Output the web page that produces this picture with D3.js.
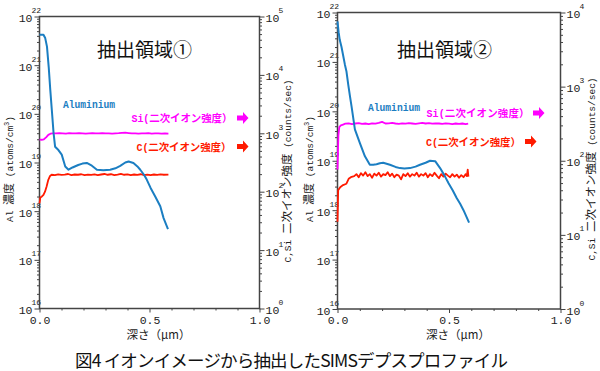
<!DOCTYPE html>
<html>
<head>
<meta charset="utf-8">
<script src="https://cdn.jsdelivr.net/npm/d3@7"></script>
<style>
  body { margin: 0; background: #fff; }
</style>
</head>
<body>
<div id="chart"></div>
<script>

// depth axis (um)
var depthMajor = [0, 0.5, 1.0];
var depthLabels = ["0.0", "0.5", "1.0"];
var depthMinor = [0.1, 0.2, 0.3, 0.4, 0.6, 0.7, 0.8, 0.9];

// Al concentration axis (atoms/cm3) and counts axis max per region
var alDomain = [1e16, 1e22];
var countsMax = [1e5, 1e4];
var panelTitles = ["抽出領域①", "抽出領域②"];

// region 1 : [depth um, value]
var al1 = [[0,4.2e21],[0.018,4.2e21],[0.026,3.6e21],[0.034,2.4e21],[0.042,9.0e20],[0.049,3.1e20],
  [0.056,1.2e20],[0.064,4.0e19],[0.071,2.1e19],[0.086,1.8e19],[0.101,1.45e19],[0.117,8.3e18],
  [0.132,7.1e18],[0.15,7.9e18],[0.176,8.9e18],[0.195,9.5e18],[0.215,9.8e18],[0.238,8.6e18],
  [0.261,7.1e18],[0.29,6.9e18],[0.321,7.1e18],[0.345,7.6e18],[0.367,8.5e18],[0.39,1.0e19],
  [0.405,1.05e19],[0.427,9.8e18],[0.445,8.3e18],[0.458,7.1e18],[0.475,5.6e18],[0.488,4.4e18],
  [0.505,3.0e18],[0.526,2.0e18],[0.549,1.26e18],[0.564,7.2e17],[0.584,4.3e17]];

var si1 = [[0,780],[0.01,775],[0.02,790],[0.03,850],[0.04,940],[0.05,985],[0.06,1000],[0.075,995],
  [0.09,1010],[0.105,1000],[0.12,990],[0.135,1005],[0.15,1000],[0.165,995],[0.18,1010],[0.195,1000],
  [0.21,990],[0.225,1000],[0.24,1005],[0.255,995],[0.27,1000],[0.285,1010],[0.3,995],[0.315,1000],
  [0.33,990],[0.345,1000],[0.36,1005],[0.375,1015],[0.39,1025],[0.405,1010],[0.42,995],[0.435,1000],
  [0.45,990],[0.465,1000],[0.48,995],[0.495,1005],[0.51,990],[0.525,995],[0.54,1000],[0.555,990],
  [0.57,995],[0.586,990]];

var c1 = [[0,63],[0.004,80],[0.01,82],[0.018,88],[0.025,100],[0.032,122],[0.04,160],[0.048,186],
  [0.055,195],[0.07,192],[0.085,198],[0.1,194],[0.115,196],[0.13,201],[0.145,193],[0.16,197],
  [0.175,195],[0.19,199],[0.205,192],[0.22,196],[0.235,194],[0.25,198],[0.265,193],[0.28,197],
  [0.295,201],[0.31,195],[0.325,199],[0.34,193],[0.355,196],[0.37,202],[0.385,195],[0.4,198],
  [0.415,192],[0.43,197],[0.445,194],[0.46,199],[0.475,193],[0.49,196],[0.505,192],[0.52,197],
  [0.535,194],[0.55,198],[0.565,195],[0.586,196]];

// region 2
var al2 = [[0,6.6e21],[0.005,4.0e21],[0.01,2.8e21],[0.018,2.0e21],[0.026,1.3e21],[0.033,8.9e20],
  [0.04,6.5e20],[0.048,3.5e20],[0.056,2.0e20],[0.063,1.26e20],[0.078,4.3e19],[0.1,2.3e19],
  [0.123,1.23e19],[0.145,8.3e18],[0.16,8.3e18],[0.175,8.5e18],[0.19,8.9e18],[0.205,9.1e18],
  [0.22,8.7e18],[0.235,8.3e18],[0.26,7.5e18],[0.28,7.1e18],[0.3,7.0e18],[0.325,7.1e18],
  [0.35,7.6e18],[0.37,8.3e18],[0.395,9.1e18],[0.415,1.0e19],[0.438,9.8e18],[0.46,7.1e18],
  [0.48,5.0e18],[0.498,3.5e18],[0.517,2.5e18],[0.535,1.74e18],[0.55,1.35e18],[0.565,1.0e18],
  [0.59,5.6e17]];

var si2 = [[0,76],[0.002,130],[0.004,220],[0.008,285],[0.015,300],[0.025,308],[0.035,316],[0.05,320],
  [0.065,312],[0.08,318],[0.095,322],[0.11,314],[0.125,318],[0.14,312],[0.155,320],[0.17,316],
  [0.185,324],[0.2,335],[0.215,318],[0.23,320],[0.245,324],[0.26,318],[0.275,314],[0.29,320],
  [0.305,316],[0.32,322],[0.335,318],[0.35,314],[0.365,320],[0.38,324],[0.395,318],[0.41,322],
  [0.425,316],[0.44,320],[0.455,318],[0.47,314],[0.485,320],[0.5,316],[0.515,312],[0.53,318],
  [0.545,314],[0.56,318],[0.575,312],[0.586,316]];

var c2 = [[0,15],[0.003,40],[0.012,44],[0.025,47],[0.04,49],[0.05,57],[0.06,60],[0.075,62],
  [0.085,66],[0.095,60],[0.105,68],[0.115,63],[0.125,70],[0.135,62],[0.145,66],[0.155,59],
  [0.165,67],[0.175,63],[0.185,69],[0.195,61],[0.205,66],[0.215,64],[0.225,70],[0.235,62],
  [0.245,67],[0.255,60],[0.265,65],[0.275,63],[0.285,56],[0.295,66],[0.305,62],[0.315,68],
  [0.325,61],[0.335,66],[0.345,63],[0.355,69],[0.365,61],[0.375,66],[0.385,63],[0.395,68],
  [0.405,60],[0.415,66],[0.425,62],[0.435,69],[0.445,63],[0.455,58],[0.465,66],[0.475,61],
  [0.485,67],[0.495,63],[0.505,60],[0.515,66],[0.525,61],[0.535,65],[0.545,59],[0.555,64],
  [0.565,60],[0.575,66],[0.58,62],[0.584,76],[0.587,61]];

var series = [[al1, si1, c1], [al2, si2, c2]];

// layout of the two panels
var panels = [
  {x0: 39.5, x1: 259.5, y0: 16.5, y1: 308.5, title: [97, 57],
   alText: [63, 108], siText: [131.5, 122, 101], cText: [136.5, 150.5, 95],
   siArrow: [237, 118], cArrow: [237, 146.5], leftTitle: [13, 169], rightTitle: [291, 171]},
  {x0: 337.5, x1: 560.5, y0: 12.5, y1: 309, title: [397, 57],
   alText: [368, 111], siText: [426.5, 117, 103], cText: [426, 145.5, 95],
   siArrow: [533, 113], cArrow: [525, 141.5], leftTitle: [313, 169], rightTitle: [595, 169]}
];

var blue = "#1b7ec2", magenta = "#ff00ff", red = "#ff1a00", frame = "#444";
var mono = "'Liberation Mono', 'DejaVu Sans Mono', monospace";
var cjk = "'Noto Sans CJK JP', 'Noto Sans', sans-serif";

var svg = d3.select("#chart")
  .append("svg")
    .attr("width", 600)
    .attr("height", 371);

panels.forEach(function(p, i) {
  var g = svg.append("g");

  var x = d3.scaleLinear().domain([0, 1]).range([p.x0, p.x1]);
  var yAl = d3.scaleLog().domain(alDomain).range([p.y1, p.y0]);
  var yC = d3.scaleLog().domain([1, countsMax[i]]).range([p.y1, p.y0]);

  var isDecade = function(d) { return Math.abs(Math.log10(d) - Math.round(Math.log10(d))) < 1e-9; };
  var alMajor = yAl.ticks().filter(isDecade), alMinor = yAl.ticks().filter(function(d) { return !isDecade(d); });
  var cMajor = yC.ticks().filter(isDecade), cMinor = yC.ticks().filter(function(d) { return !isDecade(d); });

  // x axis
  var xa = g.append("g").attr("transform", "translate(0," + p.y1 + ")")
    .call(d3.axisBottom(x).tickValues(depthMajor).tickSize(4).tickPadding(3)
      .tickFormat(function(d, k) { return depthLabels[k]; }));
  g.append("g").attr("transform", "translate(0," + p.y1 + ")")
    .call(d3.axisBottom(x).tickValues(depthMinor).tickSize(2).tickFormat(""));

  // left axis (Al)
  g.append("g").attr("transform", "translate(" + p.x0 + ",0)")
    .call(d3.axisLeft(yAl).tickValues(alMajor).tickSize(5).tickFormat(""));
  g.append("g").attr("transform", "translate(" + p.x0 + ",0)")
    .call(d3.axisLeft(yAl).tickValues(alMinor).tickSize(2.5).tickFormat(""));

  // right axis (counts)
  g.append("g").attr("transform", "translate(" + p.x1 + ",0)")
    .call(d3.axisRight(yC).tickValues(cMajor).tickSize(5).tickFormat(""));
  g.append("g").attr("transform", "translate(" + p.x1 + ",0)")
    .call(d3.axisRight(yC).tickValues(cMinor).tickSize(2.5).tickFormat(""));

  g.selectAll(".domain").remove();
  g.selectAll(".tick line").attr("stroke", frame);
  xa.selectAll("text").attr("font-family", mono).attr("font-size", 11.5).attr("fill", "#222");

  // power-of-ten labels
  alMajor.forEach(function(d) {
    g.append("text").attr("font-family", mono).attr("fill", "#222")
      .attr("x", p.x0 - 7).attr("y", yAl(d) + 5.5)
      .attr("text-anchor", "end").attr("font-size", 11.5).text("10");
    g.append("text").attr("font-family", mono).attr("fill", "#222")
      .attr("x", p.x0 - 8).attr("y", yAl(d) - 3.5).attr("font-size", 8)
      .text(Math.round(Math.log10(d)));
  });
  cMajor.forEach(function(d) {
    g.append("text").attr("font-family", mono).attr("fill", "#222")
      .attr("x", p.x1 + 6).attr("y", yC(d) + 5.5).attr("font-size", 11.5).text("10");
    g.append("text").attr("font-family", mono).attr("fill", "#222")
      .attr("x", p.x1 + 19).attr("y", yC(d) - 3.5).attr("font-size", 8)
      .text(Math.round(Math.log10(d)));
  });

  // frame
  g.append("rect")
    .attr("x", p.x0).attr("y", p.y0)
    .attr("width", p.x1 - p.x0).attr("height", p.y1 - p.y0)
    .attr("fill", "none").attr("stroke", frame).attr("stroke-width", 1.5);

  // profiles
  var alLine = d3.line().x(function(d) { return x(d[0]); }).y(function(d) { return yAl(d[1]); });
  var cLine = d3.line().x(function(d) { return x(d[0]); }).y(function(d) { return yC(d[1]); });

  g.append("path").datum(series[i][1])
    .attr("fill", "none").attr("stroke", magenta).attr("stroke-width", 1.8)
    .attr("stroke-linejoin", "round").attr("d", cLine);
  g.append("path").datum(series[i][2])
    .attr("fill", "none").attr("stroke", red).attr("stroke-width", 1.8)
    .attr("stroke-linejoin", "round").attr("d", cLine);
  g.append("path").datum(series[i][0])
    .attr("fill", "none").attr("stroke", blue).attr("stroke-width", 2)
    .attr("stroke-linejoin", "round").attr("d", alLine);

  // titles and labels
  g.append("text").attr("x", p.title[0]).attr("y", p.title[1])
    .attr("font-family", cjk).attr("font-size", 19).attr("fill", "#111")
    .text(panelTitles[i]);

  g.append("text").attr("x", p.alText[0]).attr("y", p.alText[1])
    .attr("font-family", mono).attr("font-size", 11).attr("font-weight", "bold")
    .attr("fill", blue).attr("textLength", 52).attr("lengthAdjust", "spacingAndGlyphs")
    .text("Aluminium");

  [[p.siText, p.siArrow, "Si", magenta], [p.cText, p.cArrow, "C", red]].forEach(function(l) {
    var t = g.append("text").attr("x", l[0][0]).attr("y", l[0][1])
      .attr("font-family", cjk).attr("font-size", 10.5).attr("font-weight", "bold")
      .attr("fill", l[3]).attr("textLength", l[0][2]).attr("lengthAdjust", "spacing");
    t.append("tspan").attr("font-family", mono).attr("font-size", 10).text(l[2] + "(");
    t.append("tspan").text("二次イオン強度）");
    var ax = l[1][0], ay = l[1][1];
    g.append("path")
      .attr("d", "M" + ax + "," + (ay - 2.5) + "h6v-3.5l5.5,6l-5.5,6v-3.5h-6z")
      .attr("fill", l[3]);
  });

  // axis titles
  var lt = g.append("text")
    .attr("transform", "translate(" + p.leftTitle[0] + "," + p.leftTitle[1] + ") rotate(-90)")
    .attr("text-anchor", "middle").attr("font-family", mono).attr("font-size", 9.5).attr("fill", "#222");
  lt.append("tspan").text("Al ");
  lt.append("tspan").attr("font-family", cjk).attr("font-size", 11).text("濃度");
  lt.append("tspan").text(" (atoms/cm");
  lt.append("tspan").attr("font-size", 7).attr("dy", -4).text("3");
  lt.append("tspan").attr("dy", 4).text(")");

  var rt = g.append("text")
    .attr("transform", "translate(" + p.rightTitle[0] + "," + p.rightTitle[1] + ") rotate(-90)")
    .attr("text-anchor", "middle").attr("font-family", mono).attr("font-size", 9.5).attr("fill", "#222");
  rt.append("tspan").text("C,Si ");
  rt.append("tspan").attr("font-family", cjk).attr("font-size", 11.5).text("二次イオン強度");
  rt.append("tspan").text(" (counts/sec)");

  g.append("text").attr("x", (p.x0 + p.x1) / 2 + 9).attr("y", 339)
    .attr("text-anchor", "middle").attr("font-family", cjk).attr("font-size", 11.5).attr("fill", "#222")
    .text("深さ（μm）");
});

// caption
svg.append("text").attr("x", 75).attr("y", 367)
  .attr("font-family", "'Noto Sans CJK JP', sans-serif").attr("font-size", 17.5).attr("fill", "#111")
  .attr("textLength", 433).attr("lengthAdjust", "spacing")
  .text("図4 イオンイメージから抽出したSIMSデプスプロファイル");

</script>
</body>
</html>
